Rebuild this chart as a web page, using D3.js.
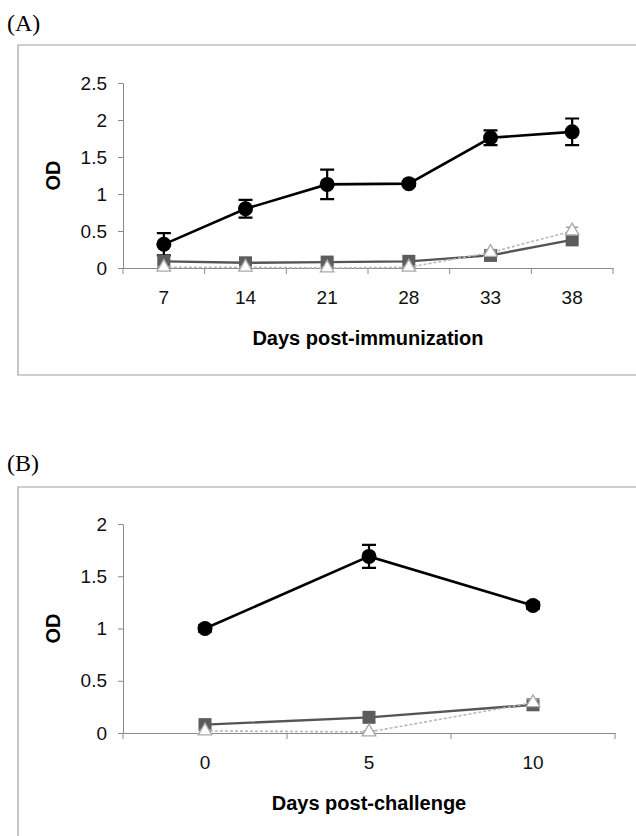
<!DOCTYPE html>
<html><head><meta charset="utf-8">
<script src="https://cdn.jsdelivr.net/npm/d3@7"></script>
<style>
body{margin:0;background:#fff;}
svg{display:block;}
.tick text{font-family:"Liberation Sans",Arial,sans-serif;}
</style></head>
<body>
<svg id="c" width="636" height="836"></svg>
<script>
// ---- data ----
const daysA = ["7","14","21","28","33","38"];
const circleA = [0.32,0.80,1.13,1.14,1.76,1.84];
const circleAErr = [0.15,0.12,0.20,0.03,0.10,0.18];
const squareA = [0.09,0.07,0.08,0.09,0.17,0.38];
const squareAErr = [0.02,0.02,0.02,0.02,0.02,0.03];
const triangleA = [0.01,0.01,0.00,0.01,0.21,0.50];
const triangleAErr = [0.01,0.01,0.01,0.01,0.03,0.05];
const yTicksA = [0,0.5,1,1.5,2,2.5];

const daysB = ["0","5","10"];
const circleB = [1.00,1.69,1.22];
const circleBErr = [0.03,0.11,0.03];
const squareB = [0.08,0.15,0.27];
const squareBErr = [0.02,0.02,0.02];
const triangleB = [0.02,0.01,0.29];
const triangleBErr = [0.01,0.01,0.03];
const yTicksB = [0,0.5,1,1.5,2];

const svg = d3.select("#c");
const AX = "#8a8a8a";

function panel(cfg){
  const g = svg.append("g");
  g.append("path").attr("d", cfg.frame).attr("fill","none").attr("stroke","#a0a0a0").attr("stroke-width",1.2);
  g.append("text").attr("x",7).attr("y",cfg.labelY).text(cfg.label)
    .attr("font-family","'Liberation Serif','Times New Roman',serif").attr("font-size",24);

  const x = d3.scaleBand().domain(cfg.cats).range([123, cfg.right]);
  const y = d3.scaleLinear().domain([0,cfg.ymax]).range([cfg.bottom, cfg.top]);
  const cx = d => x(d) + x.bandwidth()/2;

  const ya = g.append("g").attr("transform","translate(123,0)")
    .call(d3.axisLeft(y).tickValues(cfg.yTicks).tickSize(5).tickSizeOuter(0).tickPadding(11).tickFormat(d3.format("")));
  ya.selectAll("path,line").attr("stroke",AX);
  ya.selectAll("text").attr("font-size",19).attr("fill","#111");
  const xa = g.append("g").attr("transform",`translate(0,${cfg.bottom})`)
    .call(d3.axisBottom(x).tickSize(0).tickPadding(23));
  xa.select(".domain").attr("stroke",AX);
  xa.selectAll("text").attr("font-size",19).attr("fill","#111");
  const bounds = cfg.cats.map(c=>x(c)).concat([cfg.right]);
  g.selectAll(".xt").data(bounds).enter().append("line")
    .attr("x1",d=>d).attr("x2",d=>d).attr("y1",cfg.bottom).attr("y2",cfg.bottom+6).attr("stroke",AX);

  g.append("text").attr("x",(123+cfg.right)/2).attr("y",cfg.bottom+77).attr("text-anchor","middle")
    .attr("font-family","'Liberation Sans',Arial,sans-serif").attr("font-weight","bold").attr("font-size",20).text(cfg.xtitle);
  g.append("text").attr("transform",`translate(60,${(cfg.top+cfg.bottom)/2}) rotate(-90)`).attr("text-anchor","middle")
    .attr("font-family","'Liberation Sans',Arial,sans-serif").attr("font-weight","bold").attr("font-size",20).text("OD");

  const line = d3.line().x((d,i)=>cx(cfg.cats[i])).y(d=>y(d));

  function errs(vals, errv, color, w, cap){
    g.selectAll(null).data(vals).enter().append("path")
      .attr("d",(d,i)=>{const X=cx(cfg.cats[i]),t=y(d+errv[i]),b=y(Math.max(0,d-errv[i]));
        return `M${X},${t}V${b}M${X-cap},${t}H${X+cap}M${X-cap},${b}H${X+cap}`;})
      .attr("stroke",color).attr("stroke-width",w).attr("fill","none");
  }

  // circle series
  g.append("path").datum(cfg.circle).attr("d",line).attr("fill","none").attr("stroke","#000").attr("stroke-width",2.6);
  errs(cfg.circle, cfg.circleErr, "#000", 2.2, 7);
  g.selectAll(null).data(cfg.circle).enter().append("circle")
    .attr("cx",(d,i)=>cx(cfg.cats[i])).attr("cy",d=>y(d)).attr("r",7.5).attr("fill","#000");

  // square series
  g.append("path").datum(cfg.square).attr("d",line).attr("fill","none").attr("stroke","#555").attr("stroke-width",2.4);
  errs(cfg.square, cfg.squareErr, "#555", 1.5, 6);
  g.selectAll(null).data(cfg.square).enter().append("rect")
    .attr("x",(d,i)=>cx(cfg.cats[i])-6.5).attr("y",d=>y(d)-6.5).attr("width",13).attr("height",13).attr("fill","#5c5c5c");

  // triangle series
  g.append("path").datum(cfg.tri).attr("d",line).attr("fill","none").attr("stroke","#b8b8b8").attr("stroke-width",1.6).attr("stroke-dasharray","3,2");
  errs(cfg.tri, cfg.triErr, "#999", 1.4, 6);
  const sym = d3.symbol().type(d3.symbolTriangle).size(80);
  g.selectAll(null).data(cfg.tri).enter().append("path")
    .attr("transform",(d,i)=>`translate(${cx(cfg.cats[i])},${y(d)})`).attr("d",sym)
    .attr("fill","#fff").attr("stroke","#aaa").attr("stroke-width",1.3);
}

panel({cats:daysA, right:613, top:83, bottom:268, ymax:2.5, yTicks:yTicksA,
  circle:circleA, circleErr:circleAErr, square:squareA, squareErr:squareAErr, tri:triangleA, triErr:triangleAErr,
  xtitle:"Days post-immunization", label:"(A)", labelY:31,
  frame:"M636,45H18V375H636"});
panel({cats:daysB, right:615, top:524, bottom:733, ymax:2, yTicks:yTicksB,
  circle:circleB, circleErr:circleBErr, square:squareB, squareErr:squareBErr, tri:triangleB, triErr:triangleBErr,
  xtitle:"Days post-challenge", label:"(B)", labelY:471,
  frame:"M636,487H18V836"});
</script>
</body></html>
